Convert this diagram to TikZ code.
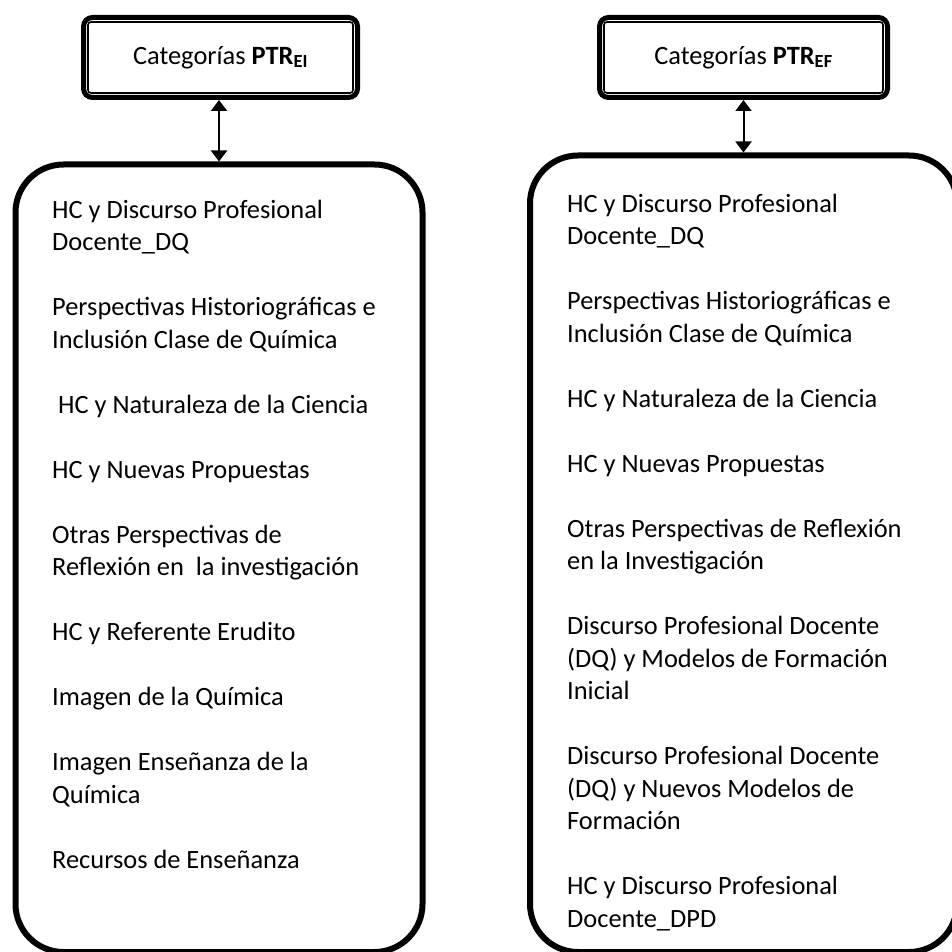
\documentclass[tikz,border=0pt]{standalone}
\usepackage{fontspec}
\setmainfont{Carlito}
\usetikzlibrary{arrows.meta}

\tikzset{
  headbox/.style={draw, line width=5pt, rounded corners=9pt, outer sep=2.5pt,
    minimum height=80pt, inner sep=0pt,
    font=\fontsize{26.4}{32.5}\selectfont},
  headinner/.style={draw, line width=1.6pt, rounded corners=3pt},
  listbox/.style={draw, line width=6pt, rounded corners=48pt, outer sep=3pt,
    inner sep=0pt},
  % base anchor of a multi-line entry sits on its last line
  entry/.style={anchor=base west, inner sep=0pt, align=left,
    font=\fontsize{26.4}{32.5}\selectfont},
  link/.style={line width=2pt, {Triangle[width=16pt,length=11pt]}-{Triangle[width=16pt,length=11pt]}}
}

\begin{document}
\begin{tikzpicture}[x=1pt,y=-1pt]
\useasboundingbox (0,0) rectangle (951,952);

% header boxes
\node[headbox, minimum width=274pt] (hl) at (220.5,57.5)
  {Categorías \textbf{PTR}\textsubscript{\textbf{EI}}};
\draw[headinner] ([xshift=7pt,yshift=-7pt]hl.north west) rectangle ([xshift=-7pt,yshift=7pt]hl.south east);

\node[headbox, minimum width=288pt] (hr) at (743.5,57.5)
  {Categorías \textbf{PTR}\textsubscript{\textbf{EF}}};
\draw[headinner] ([xshift=7pt,yshift=-7pt]hr.north west) rectangle ([xshift=-7pt,yshift=7pt]hr.south east);

% category lists
\node[listbox, minimum width=407pt, minimum height=787.5pt] (bl) at (219,558.25) {};
\node[listbox, minimum width=427pt, minimum height=796.5pt] (br) at (743.5,553.75) {};

% connectors
\draw[link] (bl.north |- hl.south) -- (bl.north);
\draw[link] (br.north |- hr.south) -- (br.north);

% left list entries
\node[entry] (l1) at (52,250.5) {HC y Discurso Profesional\\Docente\_DQ};
\node[entry] (l2) at (52,348)   {Perspectivas Historiográficas e\\Inclusión Clase de Química};
\node[entry] (l3) at (58,413)   {HC y Naturaleza de la Ciencia};
\node[entry] (l4) at (52,478)   {HC y Nuevas Propuestas};
\node[entry] (l5) at (52,575.5) {Otras Perspectivas de\\Reflexión en\ \ la investigación};
\node[entry] (l6) at (52,640.5) {HC y Referente Erudito};
\node[entry] (l7) at (52,705.5) {Imagen de la Química};
\node[entry] (l8) at (52,803)   {Imagen Enseñanza de la\\Química};
\node[entry] (l9) at (52,868)   {Recursos de Enseñanza};

% right list entries
\node[entry] (r1) at (567,244.5) {HC y Discurso Profesional\\Docente\_DQ};
\node[entry] (r2) at (567,342)   {Perspectivas Historiográficas e\\Inclusión Clase de Química};
\node[entry] (r3) at (567,407)   {HC y Naturaleza de la Ciencia};
\node[entry] (r4) at (567,472)   {HC y Nuevas Propuestas};
\node[entry] (r5) at (567,569.5) {Otras Perspectivas de Reflexión\\en la Investigación};
\node[entry] (r6) at (567,699.5) {Discurso Profesional Docente\\(DQ) y Modelos de Formación\\Inicial};
\node[entry] (r7) at (567,829.5) {Discurso Profesional Docente\\(DQ) y Nuevos Modelos de\\Formación};
\node[entry] (r8) at (567,927)   {HC y Discurso Profesional\\Docente\_DPD};
\end{tikzpicture}
\end{document}
